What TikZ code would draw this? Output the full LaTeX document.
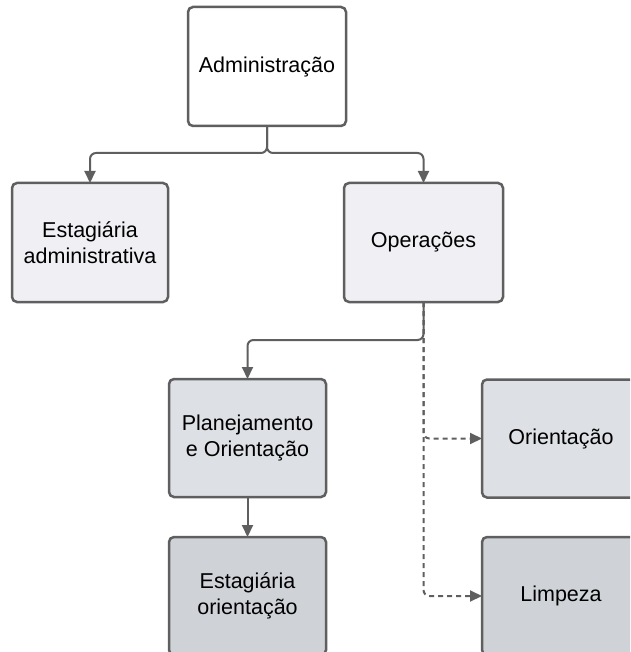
\documentclass[tikz,border=0pt]{standalone}
\usepackage{fontspec}
\setmainfont{Liberation Sans}
\usetikzlibrary{arrows.meta}
\definecolor{edge}{HTML}{5F5F5F}
\definecolor{fillA}{HTML}{FFFFFF}
\definecolor{fillB}{HTML}{EFEFF4}
\definecolor{fillC}{HTML}{DDE0E4}
\definecolor{fillD}{HTML}{CFD3D8}
\tikzset{
  box/.style={draw=edge, line width=2.5pt, rounded corners=5pt, minimum width=157pt, minimum height=118pt,
    align=center, inner sep=0pt, outer sep=0pt,
    font=\fontsize{21.5pt}{25.7pt}\selectfont},
  conn/.style={draw=edge, line width=2pt, rounded corners=6pt, -{Triangle[length=12pt,width=11pt]}},
  dconn/.style={conn, dash pattern=on 5pt off 4pt}
}
\begin{document}
\begin{tikzpicture}[x=1pt,y=-1pt]
\useasboundingbox (0,0) rectangle (630,652);
\clip (0,0) rectangle (630,652);
\node[box, fill=fillA, minimum width=158pt, minimum height=119pt] (adm) at (267,66.5) {Administração};
\node[box, fill=fillB, minimum width=156pt, minimum height=119pt] (estadm) at (90,242.5) {Estagiária\\administrativa};
\node[box, fill=fillB, minimum width=159pt, minimum height=119pt] (ops) at (423.5,242.5) {Operações};
\node[box, fill=fillC] (plan) at (247.5,438) {Planejamento\\e Orientação};
\node[box, fill=fillC, minimum width=158pt] (orient) at (561,438.5) {Orientação};
\node[box, fill=fillD] (estor) at (247.5,596) {Estagiária\\orientação};
\node[box, fill=fillD, minimum width=158pt] (limp) at (561,596) {Limpeza};
\draw[conn] (adm.south) -- ++(0,27) -| (estadm.north);
\draw[conn] (adm.south) -- ++(0,27) -| (ops.north);
\draw[conn] (ops.south) -- ++(0,38) -| (plan.north);
\draw[conn] (plan.south) -- (estor.north);
\draw[dconn] (ops.south) |- (orient.west);
\draw[dconn] (ops.south) |- (limp.west);
\end{tikzpicture}
\end{document}
